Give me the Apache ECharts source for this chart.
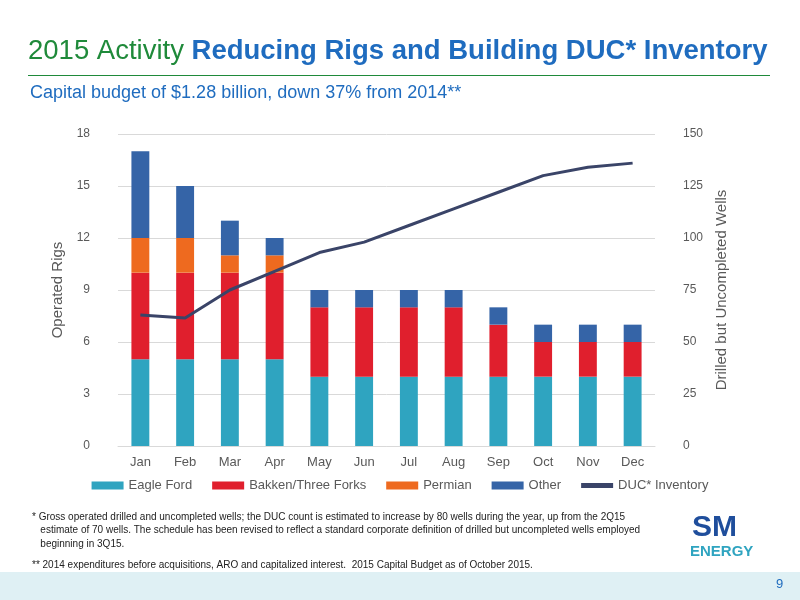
<!DOCTYPE html>
<html><head><meta charset="utf-8">
<script src="https://cdn.jsdelivr.net/npm/echarts@6/dist/echarts.min.js"></script>
<style>html,body{margin:0;padding:0;background:#fff}#c{width:800px;height:600px}</style>
</head><body><div id="c"></div>
<script>
const months=['Jan','Feb','Mar','Apr','May','Jun','Jul','Aug','Sep','Oct','Nov','Dec'];
const eagleFord=[5,5,5,5,4,4,4,4,4,4,4,4];
const bakken=[5,5,5,5,4,4,4,4,3,2,2,2];
const permian=[2,2,1,1,0,0,0,0,0,0,0,0];
const other=[5,3,2,1,1,1,1,1,1,1,1,1];
const duc=[63,61.5,75,84,93,98,106,114,122,130,134,136];
const ff='Liberation Sans, Arial, sans-serif';
const chart=echarts.init(document.getElementById('c'));
const bar=(name,data,color)=>({name,type:'bar',stack:'r',data,barWidth:'40%',itemStyle:{color},yAxisIndex:0});
chart.setOption({
  textStyle:{fontFamily:ff},
  animation:false,
  grid:{left:118,right:145,top:134,bottom:154},
  legend:{bottom:103,left:'center',itemWidth:32,itemHeight:8,itemGap:20,textStyle:{fontSize:13,color:'#595959'},
    data:[{name:'Eagle Ford',icon:'rect'},{name:'Bakken/Three Forks',icon:'rect'},{name:'Permian',icon:'rect'},{name:'Other',icon:'rect'},{name:'DUC* Inventory',icon:'path://M0,0L10,0L10,1.6L0,1.6Z'}]},
  xAxis:{type:'category',data:months,axisTick:{show:false},axisLine:{lineStyle:{color:'#d9d9d9'}},axisLabel:{color:'#595959',fontSize:13,margin:10}},
  yAxis:[
    {type:'value',min:0,max:18,interval:3,name:'Operated Rigs',nameLocation:'middle',nameGap:40,nameTextStyle:{fontSize:15,color:'#595959'},
     axisLabel:{color:'#595959',fontSize:12,margin:28},splitLine:{lineStyle:{color:'#d9d9d9'}}},
    {type:'value',min:0,max:150,interval:25,name:'Drilled but Uncompleted Wells',nameLocation:'middle',nameGap:48,nameRotate:90,nameTextStyle:{fontSize:15,color:'#595959'},
     axisLabel:{color:'#595959',fontSize:12,margin:28},splitLine:{show:false}}
  ],
  series:[
    bar('Eagle Ford',eagleFord,'#2fa4c0'),
    bar('Bakken/Three Forks',bakken,'#e01f2d'),
    bar('Permian',permian,'#ee6a1f'),
    bar('Other',other,'#3564a7'),
    {name:'DUC* Inventory',type:'line',yAxisIndex:1,data:duc,symbol:'none',lineStyle:{color:'#3a4468',width:3},itemStyle:{color:'#3a4468'}}
  ],
  graphic:[
    {type:'text',left:28,top:37,style:{rich:{a:{fontSize:27.5,fill:'#1f8a3a',fontFamily:ff},b:{fontSize:27.5,fill:'#1f6cbf',fontWeight:'bold',fontFamily:ff}},text:'{a|2015 Activity }{b|Reducing Rigs and Building DUC* Inventory}'}},
    {type:'rect',shape:{x:28,y:75,width:742,height:1},style:{fill:'#1f8a3a'}},
    {type:'text',left:30,top:84,style:{text:'Capital budget of $1.28 billion, down 37% from 2014**',fontSize:18,fill:'#1f6cbf',fontFamily:ff}},
    {type:'text',left:32,top:510,style:{text:'* Gross operated drilled and uncompleted wells; the DUC count is estimated to increase by 80 wells during the year, up from the 2Q15\n   estimate of 70 wells. The schedule has been revised to reflect a standard corporate definition of drilled but uncompleted wells employed\n   beginning in 3Q15.',fontSize:10,lineHeight:13.5,fill:'#222',fontFamily:ff}},
    {type:'text',left:32,top:560,style:{text:'** 2014 expenditures before acquisitions, ARO and capitalized interest.  2015 Capital Budget as of October 2015.',fontSize:10,fill:'#222',fontFamily:ff}},
    {type:'text',left:692,top:513,style:{text:'SM',fontSize:30,fontWeight:'bold',fill:'#1f4e9c',fontFamily:ff}},
    {type:'text',left:690,top:544,style:{text:'ENERGY',fontSize:15,fontWeight:'bold',fill:'#2fa4c0',fontFamily:ff}},
    {type:'rect',shape:{x:0,y:572,width:800,height:28},style:{fill:'#dff0f4'}},
    {type:'text',left:776,top:578,style:{text:'9',fontSize:13,fill:'#1f6cbf',fontFamily:ff}}
  ]
});
</script></body></html>
